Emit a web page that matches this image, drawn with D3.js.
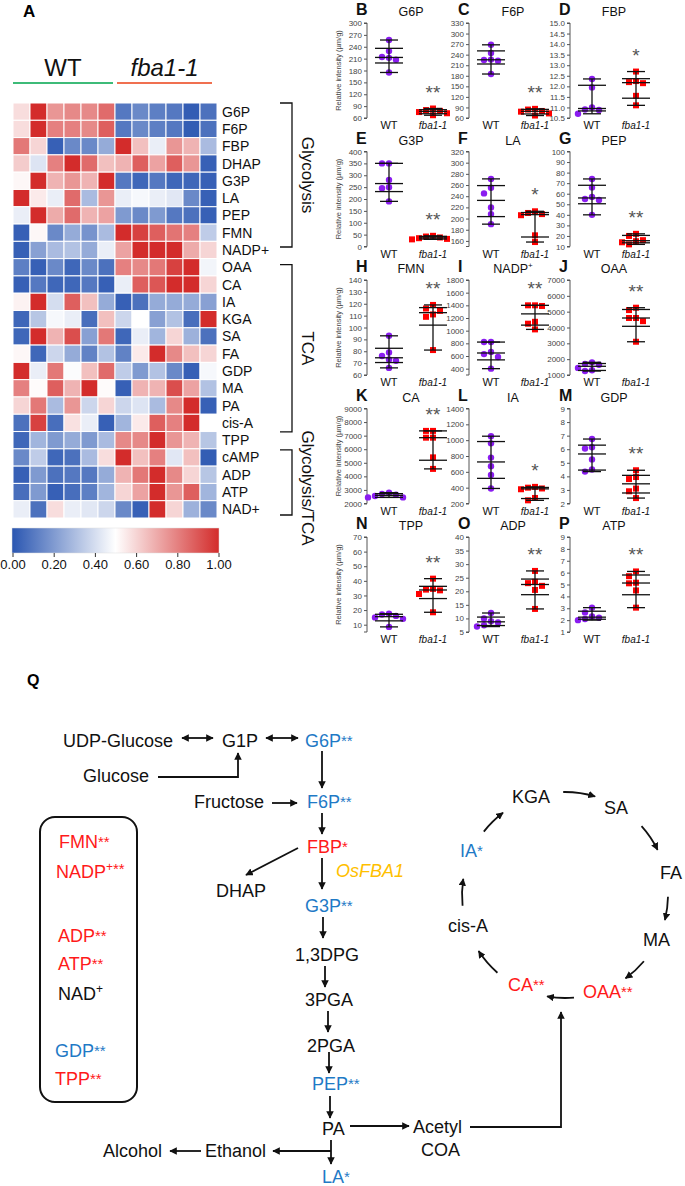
<!DOCTYPE html>
<html><head><meta charset="utf-8">
<script src="https://cdn.jsdelivr.net/npm/d3@7"></script>
<style>body{margin:0;background:#fff} svg{display:block;font-family:Arial,"Liberation Sans",sans-serif}</style>
</head><body><svg id="c" width="685" height="1186"></svg>
<script>
// ---------- Heatmap data ----------
const metabolites = ["G6P","F6P","FBP","DHAP","G3P","LA","PEP","FMN","NADP+","OAA","CA","IA","KGA","SA","FA","GDP","MA","PA","cis-A","TPP","cAMP","ADP","ATP","NAD+"];
const heatGroups = ["WT","fba1-1"];
const heatValues = [
 [0.58,1.0,0.75,0.78,0.78,0.85, 0.10,0.15,0.12,0.10,0.02,0.08],
 [0.58,1.0,0.80,0.80,0.78,0.88, 0.10,0.15,0.12,0.10,0.02,0.08],
 [0.82,0.60,0.03,0.15,0.15,0.25, 1.0,0.65,0.45,0.75,0.68,0.30],
 [0.62,0.42,0.80,1.0,0.85,0.65, 0.68,0.88,0.72,0.88,0.75,0.03],
 [0.52,1.0,0.68,0.75,0.68,1.0, 0.10,0.05,0.10,0.05,0.05,0.03],
 [1.0,0.55,0.45,0.85,0.30,0.75, 0.45,0.48,0.45,0.43,0.15,0.03],
 [0.45,1.0,0.70,0.85,0.68,0.72, 0.20,0.15,0.20,0.10,0.08,0.03],
 [0.03,0.52,0.15,0.25,0.18,0.30, 1.0,0.95,0.88,0.83,0.80,0.35],
 [0.03,0.22,0.30,0.32,0.25,0.45, 0.72,1.0,1.0,1.0,0.70,0.60],
 [0.12,0.03,0.15,0.05,0.15,0.08, 0.80,0.78,0.82,0.95,1.0,0.47],
 [0.03,0.10,0.05,0.05,0.10,0.03, 0.45,0.88,0.90,1.0,1.0,0.60],
 [0.53,1.0,0.40,0.88,0.65,0.25, 0.03,0.08,0.25,0.25,0.25,0.22],
 [0.05,0.33,0.48,0.45,0.07,0.65, 0.38,0.50,0.22,0.32,0.07,1.0],
 [0.05,1.0,0.68,0.92,0.22,0.82, 0.05,0.45,0.28,0.60,0.27,0.08],
 [0.52,0.05,0.38,0.25,0.13,0.32, 0.13,0.55,1.0,0.78,0.65,0.60],
 [1.0,0.45,0.82,0.49,0.65,0.85, 0.35,0.20,0.32,0.15,0.03,0.48],
 [0.80,0.51,0.88,0.68,1.0,0.51, 0.03,0.68,0.68,0.92,0.72,0.32],
 [0.60,0.82,0.30,0.75,0.38,0.60, 0.38,0.42,0.30,0.78,1.0,0.03],
 [0.08,0.95,0.07,0.57,0.45,0.03, 0.28,0.55,0.88,0.80,1.0,0.50],
 [0.05,0.28,0.20,0.25,0.20,0.30, 0.78,0.78,1.0,0.75,0.68,0.33],
 [0.15,0.35,0.05,0.08,0.30,0.58, 1.0,0.65,0.80,0.43,0.65,0.02],
 [0.03,0.20,0.08,0.10,0.10,0.25, 0.68,0.82,1.0,0.78,0.60,0.33],
 [0.07,0.20,0.03,0.07,0.12,0.28, 0.60,0.72,1.0,0.75,0.88,0.28],
 [0.45,0.08,0.58,0.45,0.43,0.38, 0.15,0.03,1.0,0.60,0.27,0.15]
];
const colorbarTicks = [0,0.2,0.4,0.6,0.8,1.0];
const bracketNames = ["Glycolysis","TCA","Glycolysis/TCA"];
const bracketRows = [[0,8],[9,18],[20,23]];

// ---------- Scatter panels data ----------
const panelLetters = ["B","C","D","E","F","G","H","I","J","K","L","M","N","O","P"];
const panelNames = ["G6P","F6P","FBP","G3P","LA","PEP","FMN","NADP+","OAA","CA","IA","GDP","TPP","ADP","ATP"];
const groups = ["WT","fba1-1"];
const wtValues = [
 [257,229,214,212,207,175],
 [268,245,226,225,223,185],
 [12.35,11.95,11.0,10.9,10.88,10.7],
 [350,350,280,250,245,190],
 [271,255,245,220,208,190],
 [74,66,57,55,54,40],
 [93,79,76,73,72,66],
 [820,820,665,630,585,400],
 [1800,1700,1650,1450,1300,1250],
 [2800,2700,2650,2550,2450,2450],
 [1050,960,780,670,560,390],
 [6.75,6.15,6.05,5.25,4.5,4.35],
 [17.5,17,16,15,14,8.5],
 [12,10,9,8.5,7.5,7],
 [3.05,2.65,2.3,2.2,2.1,2.0]
];
const fbaValues = [
 [84,80,78,75,72,67],
 [86,84,80,78,73,67],
 [12.7,12.25,12.2,12.15,11.55,11.1],
 [45,42,38,35,32,30],
 [213,210,208,206,170,158],
 [22,20,16,15,14,12],
 [119,116,114,111,109,81],
 [1400,1400,1390,1140,1110,1020],
 [5250,5100,4600,4600,4400,3100],
 [7350,7350,6850,6850,5400,4550],
 [410,400,390,380,270,240],
 [4.45,3.95,3.8,3.1,2.9,2.4],
 [41.5,34.5,34,33.5,31,18.5],
 [27.5,23.5,23,22,20.5,13.5],
 [6.1,5.7,5.15,5.1,4.5,3.05]
];
const yDomains = [[60,300],[60,330],[10.5,15],[0,400],[150,320],[10,100],[60,140],[300,1800],[1000,7000],[2000,9000],[200,1400],[2,9],[5,70],[5,40],[1,9]];
const yTicks = [
 d3.range(60,301,30), d3.range(60,331,30), d3.range(10.5,15.01,0.5), d3.range(0,401,50),
 d3.range(160,321,20), d3.range(10,101,10), d3.range(60,141,10), d3.range(400,1801,200),
 d3.range(1000,7001,1000), d3.range(2000,9001,1000), d3.range(200,1401,200), d3.range(2,10,1),
 d3.range(10,71,10), d3.range(5,41,5), d3.range(1,10,1)
];
const significance = ["**","**","*","**","*","**","**","**","**","**","*","**","**","**","**"];

// ---------- Pathway (Q) ----------
const pathwayNodes = [
 {t:"UDP-Glucose",x:63,y:747,c:"k"},{t:"G1P",x:222,y:747,c:"k"},{t:"G6P",s:"**",x:305,y:747,c:"b"},
 {t:"Glucose",x:83,y:782,c:"k"},{t:"Fructose",x:194,y:808,c:"k"},{t:"F6P",s:"**",x:307,y:808,c:"b"},
 {t:"FBP",s:"*",x:307,y:853,c:"r"},{t:"DHAP",x:216,y:897,c:"k"},{t:"OsFBA1",x:336,y:877,c:"y",i:true},
 {t:"G3P",s:"**",x:305,y:912,c:"b"},{t:"1,3DPG",x:295,y:961,c:"k"},{t:"3PGA",x:305,y:1006,c:"k"},
 {t:"2PGA",x:307,y:1052,c:"k"},{t:"PEP",s:"**",x:312,y:1090,c:"b"},{t:"PA",x:322,y:1135,c:"k"},
 {t:"Ethanol",x:205,y:1157,c:"k"},{t:"Alcohol",x:103,y:1157,c:"k"},{t:"LA",s:"*",x:322,y:1183,c:"b"},
 {t:"Acetyl",x:413,y:1133,c:"k"},{t:"COA",x:421,y:1156,c:"k"},
 {t:"KGA",x:512,y:803,c:"k"},{t:"SA",x:604,y:814,c:"k"},{t:"FA",x:660,y:879,c:"k"},{t:"MA",x:643,y:946,c:"k"},
 {t:"OAA",s:"**",x:583,y:998,c:"r"},{t:"CA",s:"**",x:508,y:991,c:"r"},{t:"cis-A",x:448,y:932,c:"k"},{t:"IA",s:"*",x:460,y:857,c:"b"},
 {t:"FMN",s:"**",x:59,y:848,c:"r"},{t:"NADP",p:"+",s:"**",x:56,y:878,c:"r"},
 {t:"ADP",s:"**",x:58,y:942,c:"r"},{t:"ATP",s:"**",x:58,y:970,c:"r"},{t:"NAD",p:"+",x:58,y:1000,c:"k"},
 {t:"GDP",s:"**",x:55,y:1057,c:"b"},{t:"TPP",s:"**",x:55,y:1085,c:"r"}
];
const pathwayArrows = [
 {d:"M182,738H213",both:true},{d:"M266,738H298",both:true},
 {d:"M158,777H238V753"},{d:"M322,751V788"},{d:"M272,803H297"},{d:"M322,813V834"},
 {d:"M298,848L246,875"},{d:"M322,858V889"},{d:"M323,917V938"},{d:"M325,966V987"},
 {d:"M328,1011V1032"},{d:"M329,1052V1073"},{d:"M330,1096V1118"},
 {d:"M350,1126H409"},{d:"M470,1127H561V1012"},{d:"M331,1140V1164"},{d:"M331,1151H273"},{d:"M201,1151H170"}
];
const tcaCenter = [565,895], tcaRadius = 103;
const tcaArcs = [[-1,17],[48,64],[91,104],[130,144],[175,190],[221,237],[264,279],[308,323]];

const colors = {k:"#111",b:"#1f7ac6",r:"#ff1a1a",y:"#ffbf00"};

// ================= DRAW =================
const svg = d3.select("#c");
svg.append("rect").attr("width",685).attr("height",1186).attr("fill","#fff");
const defs = svg.append("defs");
defs.append("marker").attr("id","ah").attr("viewBox","0 0 10 10").attr("refX",9).attr("refY",5)
 .attr("markerWidth",4.2).attr("markerHeight",4.2).attr("orient","auto-start-reverse").attr("markerUnits","strokeWidth")
 .append("path").attr("d","M0,0L10,5L0,10z").attr("fill","#111");

// ---- Panel A heatmap ----
svg.append("text").attr("x",23).attr("y",17).attr("font-size",17).attr("font-weight","bold").text("A");
const hx = d3.scaleBand().domain(d3.range(12)).range([13,217]);
const hy = d3.scaleBand().domain(metabolites).range([103,518]);
const heatColor = d3.scaleLinear().domain([0,0.5,1]).range(["#2a56b1","#ffffff","#d32c2b"]);
const cells = [];
heatValues.forEach((row,r)=>row.forEach((v,c)=>cells.push({r,c,v})));
svg.append("g").selectAll("rect").data(cells).join("rect")
 .attr("x",d=>hx(d.c)).attr("y",d=>hy(metabolites[d.r])).attr("width",hx.bandwidth()).attr("height",hy.bandwidth())
 .attr("fill",d=>heatColor(d.v)).attr("stroke","#fff").attr("stroke-width",1);
svg.append("g").selectAll("text").data(metabolites).join("text")
 .attr("x",222).attr("y",d=>hy(d)+hy.bandwidth()/2+5).attr("font-size",14).attr("fill","#111").text(d=>d);
// group headers
const gx = [[13,113],[117,212]];
const gcol = ["#3dbb78","#f07050"];
heatGroups.forEach((g,i)=>{
 svg.append("line").attr("x1",gx[i][0]).attr("x2",gx[i][1]).attr("y1",83).attr("y2",83).attr("stroke",gcol[i]).attr("stroke-width",2);
 svg.append("text").attr("x",(gx[i][0]+gx[i][1])/2).attr("y",76).attr("text-anchor","middle").attr("font-size",24)
  .attr("font-style",i?"italic":"normal").attr("fill","#111").text(g);
});
// brackets
bracketNames.forEach((n,i)=>{
 const [a,b] = bracketRows[i];
 const top = i===0? hy(metabolites[a]) : hy(metabolites[a])+ (i===1?6:1);
 const bot = i===2? hy(metabolites[b])+hy.bandwidth()-3 : hy(metabolites[b])+hy.bandwidth()/2+(i===1?9:-3);
 svg.append("path").attr("d",`M280,${top}H292V${bot}H280`).attr("fill","none").attr("stroke","#111").attr("stroke-width",1.3);
 const cy = i===2? 488 : (top+bot)/2;
 svg.append("text").attr("transform",`translate(302,${cy}) rotate(90)`).attr("text-anchor","middle").attr("font-size",17)
  .attr("fill","#111").text(n);
});
// colorbar
const grad = defs.append("linearGradient").attr("id","cb");
[0,0.5,1].forEach(o=>grad.append("stop").attr("offset",o).attr("stop-color",heatColor(o)));
svg.append("rect").attr("x",12).attr("y",528).attr("width",207).attr("height",25).attr("fill","url(#cb)").attr("stroke","#ddd").attr("stroke-width",0.5);
const cbx = d3.scaleLinear().domain([0,1]).range([12.5,218.5]);
const cbAxis = svg.append("g").attr("transform","translate(0,553)").call(d3.axisBottom(cbx).tickValues(colorbarTicks).tickFormat(d3.format(".2f")).tickSize(4).tickPadding(3));
cbAxis.select(".domain").remove();
cbAxis.selectAll("line").attr("stroke","#333");
cbAxis.selectAll("text").attr("font-size",13).attr("fill","#111").attr("font-family","Arial, Liberation Sans, sans-serif");

// ---- Scatter panels ----
const axisXs = [367,469,570];
function pq(sorted,p){const n=sorted.length;let pos=p*(n+1)-1;pos=Math.max(0,Math.min(n-1,pos));const lo=Math.floor(pos),hi=Math.ceil(pos);return sorted[lo]+(sorted[hi]-sorted[lo])*(pos-lo);}
function swarm(vals,ys,cx){
 const placed=[];
 const order=vals.map((v,i)=>i).sort((a,b)=>vals[b]-vals[a]);
 order.forEach(i=>{const py=ys(vals[i]);
  for(const off of [0,-7,7,-14,14,-21,21]){ if(placed.every(p=>Math.hypot(p.x-(cx+off),p.y-py)>=6.5)){placed.push({x:cx+off,y:py});break;} }
 });
 return placed;
}
panelNames.forEach((name,i)=>{
 const col=i%3,row=Math.floor(i/3);
 const ax=axisXs[col], top=23+row*128.5, bot=top+95;
 const g=svg.append("g");
 const y=d3.scaleLinear().domain(yDomains[i]).range([bot,top]);
 const x=d3.scalePoint().domain(groups).range([ax+22,ax+66]);
 const fmt = yDomains[i][0]%1!==0 ? d3.format(".1f") : d3.format("d");
 const yA=g.append("g").attr("transform",`translate(${ax},0)`).call(d3.axisLeft(y).tickValues(yTicks[i]).tickSize(3).tickPadding(2).tickFormat(fmt));
 yA.select(".domain").attr("stroke","#555").attr("d",`M-3,${bot}H0V${top}H-3`);
 yA.selectAll("line").attr("stroke","#555");
 yA.selectAll("text").attr("font-size",8).attr("fill","#444").attr("font-family","Arial, Liberation Sans, sans-serif");
 // x labels
 groups.forEach((gname,k)=>g.append("text").attr("x",x(gname)).attr("y",bot+11).attr("text-anchor","middle")
   .attr("font-size",k?10:11).attr("font-style",k?"italic":"normal").attr("fill","#111").text(gname));
 // titles
 g.append("text").attr("x",ax-11).attr("y",top-8).attr("font-size",16).attr("font-weight","bold").attr("fill","#111").text(panelLetters[i]);
 const tt=g.append("text").attr("x",ax+44).attr("y",top-7).attr("text-anchor","middle").attr("font-size",12.5).attr("fill","#111");
 if(name.endsWith("+")){tt.append("tspan").text(name.slice(0,-1));tt.append("tspan").attr("font-size",8).attr("dy",-5).text("+");}
 else tt.text(name);
 if(col===0){
  g.append("text").attr("transform",`translate(${ax-26},${(top+bot)/2}) rotate(-90)`).attr("text-anchor","middle")
   .attr("font-size",7.5).attr("fill","#444").text("Relative intensity (µm/g)");
 }
 // points
 [wtValues[i],fbaValues[i]].forEach((vals,k)=>{
  const pts=swarm(vals,y,x(groups[k]));
  if(k===0) g.selectAll(null).data(pts).join("circle").attr("cx",d=>d.x).attr("cy",d=>d.y).attr("r",3.2).attr("fill","#8a1cf0");
  else g.selectAll(null).data(pts).join("rect").attr("x",d=>d.x-3).attr("y",d=>d.y-3).attr("width",6).attr("height",6).attr("fill","#f00");
  const s=vals.slice().sort(d3.ascending);
  const cx=x(groups[k]);
  const mn=s[0],mx=s[s.length-1];
  g.append("line").attr("x1",cx).attr("x2",cx).attr("y1",y(mn)).attr("y2",y(mx)).attr("stroke","#111").attr("stroke-width",1.3);
  [[mn,9],[mx,9],[pq(s,0.25),14],[pq(s,0.5),14],[pq(s,0.75),14]].forEach(([v,h])=>
   g.append("line").attr("x1",cx-h).attr("x2",cx+h).attr("y1",y(v)).attr("y2",y(v)).attr("stroke","#111").attr("stroke-width",1.3));
  if(k===1){
   g.append("text").attr("x",cx).attr("y",y(mx)-18+8).attr("text-anchor","middle").attr("font-size",19).attr("fill","#555").text(significance[i]);
  }
 });
});

// ---- Panel Q pathway ----
svg.append("text").attr("x",27).attr("y",686).attr("font-size",16).attr("font-weight","bold").text("Q");
svg.append("rect").attr("x",40).attr("y",817).attr("width",97).attr("height",285).attr("rx",15).attr("fill","none").attr("stroke","#111").attr("stroke-width",2);
pathwayArrows.forEach(a=>{
 const p=svg.append("path").attr("d",a.d).attr("fill","none").attr("stroke","#111").attr("stroke-width",1.8).attr("marker-end","url(#ah)");
 if(a.both) p.attr("marker-start","url(#ah)");
});
tcaArcs.forEach(([a0,a1])=>{
 const p=d3.path();
 const r0=(a0-90)*Math.PI/180, r1=(a1-90)*Math.PI/180;
 p.arc(tcaCenter[0],tcaCenter[1],tcaRadius,r0,r1,false);
 svg.append("path").attr("d",p.toString()).attr("fill","none").attr("stroke","#111").attr("stroke-width",1.8).attr("marker-end","url(#ah)");
});
pathwayNodes.forEach(n=>{
 const t=svg.append("text").attr("x",n.x).attr("y",n.y).attr("font-size",18).attr("fill",colors[n.c]).attr("font-style",n.i?"italic":"normal");
 t.append("tspan").text(n.t);
 if(n.p) t.append("tspan").attr("font-size",12).attr("dy",-7).text(n.p);
 if(n.s) t.append("tspan").attr("font-size",15).attr("dy",n.p?3:-1).text(n.s);
});
</script></body></html>
